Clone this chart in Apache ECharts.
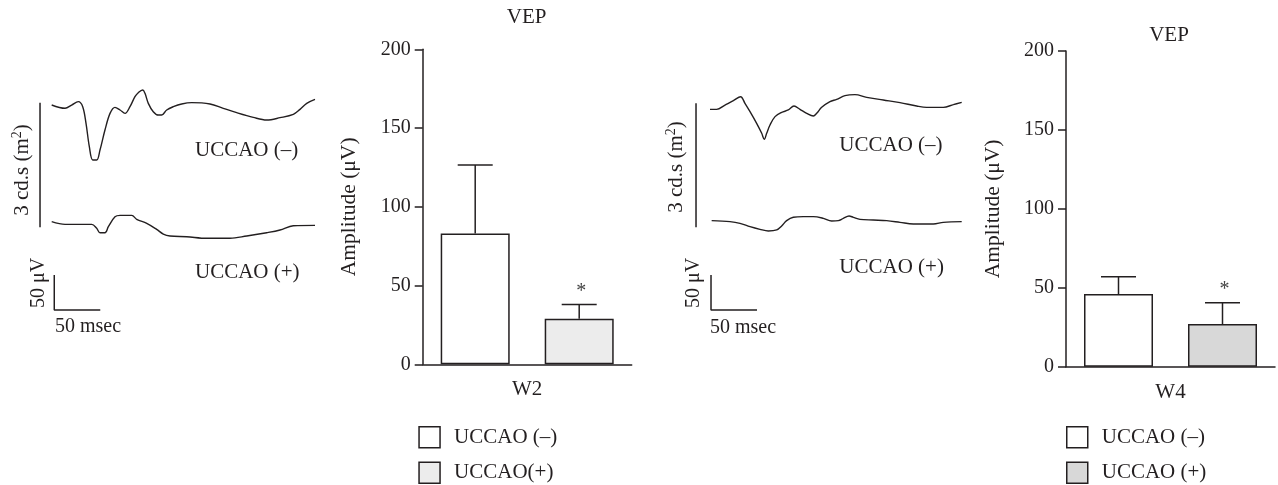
<!DOCTYPE html>
<html>
<head>
<meta charset="utf-8">
<script src="https://cdn.jsdelivr.net/npm/echarts@6/dist/echarts.min.js"></script>
<style>html,body{margin:0;padding:0;background:#fff}#c{width:1278px;height:485px}</style>
</head>
<body>
<div id="c"></div>
<script>
// ---------- DATA ----------
const catW2 = ['W2'];
const catW4 = ['W4'];
const seriesNamesW2 = ['UCCAO (–)', 'UCCAO(+)'];
const seriesNamesW4 = ['UCCAO (–)', 'UCCAO (+)'];
const w2Mean = [83, 29];
const w2Sem = [43.5, 9];
const w4Mean = [46, 27];
const w4Sem = [11, 13.5];
const sigMarks = ['', '*'];
const yTicks = [0, 50, 100, 150, 200];

// VEP traces: [time (msec), amplitude (μV, arbitrary offset)]
const w2TraceNeg = [[0,321.4],[14.5,316.7],[21.7,321.4],[28.9,326.2],[33.7,319],[37.3,295.2],[40.9,261.9],[44.6,242.9],[48.9,242.9],[52.5,257.1],[57.9,285.7],[63.4,309.5],[68.8,318.1],[74.3,314.3],[79.7,309.5],[85.1,319],[90.5,333.3],[94.1,339],[98.9,342.9],[101.4,338.1],[105,323.8],[110.4,311.9],[115.9,307.1],[119.5,307.1],[125,314.3],[132.2,319],[141.3,322.9],[152.2,324.8],[172.1,322.9],[186.5,316.7],[201.1,310.5],[219.1,303.8],[233.7,300],[248.2,303.3],[262.6,308.1],[269.9,315.2],[277.2,323.8],[286.2,329.5]];
const w2TracePos = [[0,154.8],[14.5,150.9],[43.5,150.9],[48.9,145.2],[52.5,139],[57.9,139],[61.6,147.6],[68.8,161.9],[74.3,163.8],[87,163.8],[92.4,158.1],[103.3,152.4],[114.1,143.8],[121.3,137.1],[128.6,134.3],[146.7,133.3],[168.5,131],[193.8,131],[212,134.3],[233.7,139],[248.2,142.9],[262.6,149],[286.2,149.5]];
const w4TraceNeg = [[0,315.2],[7.2,315.2],[16.3,321.4],[25.4,327.6],[33.3,333.3],[38,323.8],[43.5,311.9],[50.7,295.2],[56.2,281],[59,272.4],[61.6,281],[65.2,292.9],[70.7,304.8],[77.9,310.9],[85.1,314.3],[91.3,320],[97.8,315.2],[105.1,309.5],[112.3,305.7],[116,309.5],[121.4,318.1],[130.4,326.2],[137.7,329.5],[146.7,334.8],[157.6,336.2],[170.3,332.4],[188.4,328.6],[206.5,324.8],[224.6,320],[235.5,318.1],[253.6,318.1],[264.5,321.9],[273.6,325.2]];
const w4TracePos = [[1.8,156.2],[21.7,154.8],[32.6,152.4],[43.5,147.6],[54.3,143.8],[63.4,141.4],[72.5,142.9],[77.9,148.6],[83.3,156.2],[90.6,161],[101.4,161.9],[112.3,161.9],[123.2,159.5],[132.2,155.7],[139.5,156.2],[144.9,159.5],[151.1,162.9],[155.8,161],[163,158.1],[177.5,157.1],[192,156.2],[206.5,153.8],[221,151.4],[242.8,151.4],[253.6,153.8],[273.6,154.8]];
// scale bars (50 μV / 50 msec) and stimulus bracket
const w2ScaleBar = [[2.8,78.6],[2.8,28.6],[52.8,28.6]];
const w4ScaleBar = [[1.1,78.6],[1.1,28.6],[51.1,28.6]];
const w2Bracket = [[-12.7,324.7],[-12.7,146.7]];
const w4Bracket = [[-15.2,323.9],[-15.2,146.7]];

// ---------- STYLE ----------
const FONT = 'Liberation Serif';
const INK = '#231f20';
const BAR_W = 69;
const BAR_GAP = 35;
const CAP = 35;
const barFillsW2 = ['#ffffff', '#ececec'];
const barFillsW4 = ['#ffffff', '#d8d8d8'];

const chart = echarts.init(document.getElementById('c'), null, {renderer: 'canvas'});

function traceSeries(grid, data) {
  return {type: 'line', xAxisIndex: grid, yAxisIndex: grid, data: data, smooth: 0.35,
    showSymbol: false, symbol: 'none', silent: true,
    lineStyle: {color: INK, width: 1.4}};
}
function straightSeries(grid, data) {
  return {type: 'line', xAxisIndex: grid, yAxisIndex: grid, data: data, smooth: false,
    showSymbol: false, symbol: 'none', silent: true,
    lineStyle: {color: INK, width: 1.5}};
}
function barSeries(grid, name, value, fill) {
  return {type: 'bar', name: name, xAxisIndex: grid, yAxisIndex: grid, data: [value],
    barWidth: BAR_W, barGap: (BAR_GAP / BAR_W * 100) + '%', silent: true,
    itemStyle: {color: fill, borderColor: INK, borderWidth: 1.5}};
}
function errSeries(grid, means, sems) {
  const data = means.map((m, i) => [0, m, m + sems[i], i]);
  return {type: 'custom', xAxisIndex: grid, yAxisIndex: grid, data: data, silent: true, z: 5,
    renderItem: function (params, api) {
      const idx = api.value(3);
      const base = api.coord([api.value(0), api.value(1)]);
      const top = api.coord([api.value(0), api.value(2)]);
      const x = base[0] + (idx - 0.5) * (BAR_W + BAR_GAP);
      const children = [
        {type: 'line', shape: {x1: x, y1: base[1], x2: x, y2: top[1]}, style: {stroke: INK, lineWidth: 1.5}},
        {type: 'line', shape: {x1: x - CAP / 2, y1: top[1], x2: x + CAP / 2, y2: top[1]}, style: {stroke: INK, lineWidth: 1.5}}
      ];
      if (sigMarks[idx]) {
        children.push({type: 'text', x: x + 2, y: top[1] - 13,
          style: {text: sigMarks[idx], fontSize: 20, fontFamily: FONT, fill: '#444', align: 'center', verticalAlign: 'middle'}});
      }
      return {type: 'group', children: children};
    }};
}

const traceX = {type: 'value', min: -25, max: 300, show: false};
const traceY = {type: 'value', min: 0, max: 360, show: false};
function barX(grid, cats) {
  return {type: 'category', gridIndex: grid, data: cats,
    axisLine: {lineStyle: {color: INK, width: 1.5}}, axisTick: {show: false},
    axisLabel: {fontSize: 21, fontFamily: FONT, color: INK, margin: 15}};
}
function barY(grid) {
  return {type: 'value', gridIndex: grid, min: yTicks[0], max: yTicks[yTicks.length - 1], interval: yTicks[1] - yTicks[0],
    name: 'Amplitude (μV)', nameLocation: 'middle', nameGap: 62,
    nameTextStyle: {fontSize: 21.5, fontFamily: FONT, color: INK},
    axisLine: {show: true, lineStyle: {color: INK, width: 1.5}},
    axisTick: {show: true, inside: false, length: 8, lineStyle: {color: INK, width: 1.5}},
    axisLabel: {fontSize: 20, fontFamily: FONT, color: INK, margin: 12},
    splitLine: {show: false}};
}

function txt(x, y, s, opts) {
  opts = opts || {};
  const style = {text: s, fontSize: opts.size || 21, fontFamily: FONT, fill: INK,
      align: opts.align || 'left', verticalAlign: 'middle',
      textAlign: opts.align || 'left', textVerticalAlign: 'middle'};
  if (opts.rich) style.rich = opts.rich;
  return {type: 'text', x: x, y: y, rotation: opts.rot || 0, silent: true, style: style};
}
const supRich = {
  b: {fontSize: 21, fontFamily: FONT, fill: INK},
  sup: {fontSize: 14, fontFamily: FONT, fill: INK, padding: [0, 0, 9, 0]}
};

const option = {
  animation: false,
  backgroundColor: '#ffffff',
  textStyle: {fontFamily: FONT, color: INK},
  grid: [
    {left: 28.7, top: 78, width: 299, height: 252},
    {left: 422.7, top: 49.3, width: 209, height: 315},
    {left: 687, top: 78, width: 299, height: 252},
    {left: 1066, top: 51, width: 209, height: 315.7}
  ],
  xAxis: [
    Object.assign({gridIndex: 0}, traceX),
    barX(1, catW2),
    Object.assign({gridIndex: 2}, traceX),
    barX(3, catW4)
  ],
  yAxis: [
    Object.assign({gridIndex: 0}, traceY),
    barY(1),
    Object.assign({gridIndex: 2}, traceY),
    barY(3)
  ],
  legend: [
    {data: seriesNamesW2, left: 418.3, top: 426, orient: 'vertical', padding: 0, itemGap: 13,
      itemWidth: 21, itemHeight: 21, icon: 'rect', selectedMode: false,
      itemStyle: {borderColor: INK, borderWidth: 1.5},
      textStyle: {fontSize: 21, fontFamily: FONT, color: INK, padding: [0, 0, 0, 9], lineHeight: 21}},
    {data: seriesNamesW4, left: 1066, top: 426, orient: 'vertical', padding: 0, itemGap: 13,
      itemWidth: 21, itemHeight: 21, icon: 'rect', selectedMode: false,
      itemStyle: {borderColor: INK, borderWidth: 1.5},
      textStyle: {fontSize: 21, fontFamily: FONT, color: INK, padding: [0, 0, 0, 9], lineHeight: 21}}
  ],
  series: [
    traceSeries(0, w2TraceNeg), traceSeries(0, w2TracePos),
    straightSeries(0, w2ScaleBar), straightSeries(0, w2Bracket),
    barSeries(1, seriesNamesW2[0], w2Mean[0], barFillsW2[0]),
    barSeries(1, seriesNamesW2[1], w2Mean[1], barFillsW2[1]),
    errSeries(1, w2Mean, w2Sem),
    traceSeries(2, w4TraceNeg), traceSeries(2, w4TracePos),
    straightSeries(2, w4ScaleBar), straightSeries(2, w4Bracket),
    barSeries(3, seriesNamesW4[0] + ' ', w4Mean[0], barFillsW4[0]),
    barSeries(3, seriesNamesW4[1], w4Mean[1], barFillsW4[1]),
    errSeries(3, w4Mean, w4Sem)
  ],
  graphic: [
    txt(526.7, 17, 'VEP', {align: 'center'}),
    txt(1169, 35, 'VEP', {align: 'center'}),
    txt(22, 170, '{b|3 cd.s (m}{sup|2}{b|)}', {align: 'center', rot: Math.PI / 2, rich: supRich}),
    txt(195, 150.7, 'UCCAO (–)'),
    txt(195, 272.7, 'UCCAO (+)'),
    txt(39, 283, '50 μV', {align: 'center', rot: Math.PI / 2, size: 20}),
    txt(55, 327, '50 msec', {size: 20}),
    txt(676, 167, '{b|3 cd.s (m}{sup|2}{b|)}', {align: 'center', rot: Math.PI / 2, rich: supRich}),
    txt(839.3, 145.7, 'UCCAO (–)'),
    txt(839.3, 267.7, 'UCCAO (+)'),
    txt(693.3, 283, '50 μV', {align: 'center', rot: Math.PI / 2, size: 20}),
    txt(710, 328, '50 msec', {size: 20})
  ]
};
chart.setOption(option);
</script>
</body>
</html>
